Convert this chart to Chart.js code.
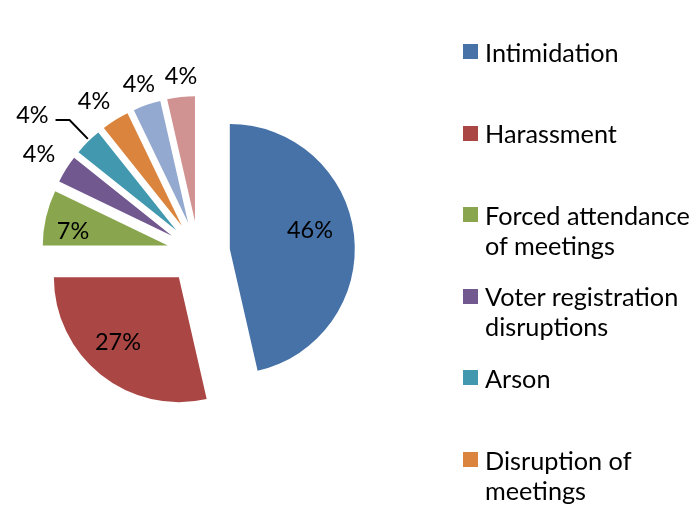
<!DOCTYPE html>
<html>
<head>
<meta charset="utf-8">
<script src="https://cdn.jsdelivr.net/npm/chart.js@4.4.1/dist/chart.umd.min.js"></script>
<style>
  html, body { margin: 0; padding: 0; background: #ffffff; }
  #wrap { position: relative; width: 697px; height: 510px; overflow: hidden; }
  #c { position: absolute; left: 0; top: 0; }
  .li { position: absolute; left: 463px; width: 234px; }
  .sw { position: absolute; left: 0; top: 0; width: 15px; height: 15px; }
  .tx { position: absolute; left: 22px; width: 212px; line-height: 30px; color: #000; white-space: normal; }
</style>
</head>
<body>
<div id="wrap">
  <canvas id="c" width="697" height="510"></canvas>
  <div id="legend"></div>
</div>
<script>
// ---- data ----
const categories = [
  "Intimidation",
  "Harassment",
  "Forced attendance of meetings",
  "Voter registration disruptions",
  "Arson",
  "Disruption of meetings",
  "Other 1",
  "Other 2"
];
const values = [13, 8, 2, 1, 1, 1, 1, 1];
const pctLabels = ["46%", "27%", "7%", "4%", "4%", "4%", "4%", "4%"];
const legendShown = 6;

// ---- style / layout config ----
const colors = ["#4672A8", "#AA4644", "#89A54E", "#71588F", "#4198AF", "#DB843D", "#93A9CF", "#D19392"];
const FONT = 'Lato, "Noto Sans", sans-serif';
const RADIUS = 125;
const EXPLODE = 0.252;
const labelRadius = [0.658, 0.71, 0.767, 1.248, 1.478, 1.222, 1.178, 1.171];
const labelNudgeDeg = [-5.1, 3.5, -2.9, -0.4, -5.2, -2.4, -0.2, 0.8];

function fitSize(text, target) {
  const m = document.createElement('canvas').getContext('2d');
  m.font = '100px ' + FONT;
  return 100 * target / m.measureText(text).width;
}
const legendSize = fitSize("Forced attendance", 205);
const labelSize = fitSize("46%", 46);

// ---- legend (HTML) ----
const legendEl = document.getElementById('legend');
for (let i = 0; i < legendShown; i++) {
  const li = document.createElement('div');
  li.className = 'li';
  li.style.top = (44 + i * 81.6) + 'px';
  const sw = document.createElement('div');
  sw.className = 'sw';
  sw.style.background = colors[i];
  const tx = document.createElement('div');
  tx.className = 'tx';
  tx.style.top = '-7.5px';
  tx.style.fontFamily = FONT;
  tx.style.fontSize = legendSize + 'px';
  tx.textContent = categories[i];
  li.appendChild(sw);
  li.appendChild(tx);
  legendEl.appendChild(li);
}

// ---- plugins ----
function centerOf(chart) {
  const a = chart.chartArea;
  return { cx: (a.left + a.right) / 2, cy: (a.top + a.bottom) / 2 };
}
const explodePlugin = {
  id: 'explode',
  beforeDatasetsDraw(chart) {
    const { cx, cy } = centerOf(chart);
    chart.getDatasetMeta(0).data.forEach(arc => {
      const d = EXPLODE * arc.outerRadius;
      const mid = (arc.startAngle + arc.endAngle) / 2;
      arc.x = cx + d * Math.cos(mid);
      arc.y = cy + d * Math.sin(mid);
    });
  }
};
const labelPlugin = {
  id: 'pctLabels',
  afterDatasetsDraw(chart) {
    const ctx = chart.ctx;
    const { cx, cy } = centerOf(chart);
    ctx.save();
    ctx.font = labelSize + 'px ' + FONT;
    ctx.fillStyle = '#000';
    ctx.textAlign = 'center';
    ctx.textBaseline = 'alphabetic';
    const cap = 0.72 * labelSize;
    chart.getDatasetMeta(0).data.forEach((arc, i) => {
      const r = arc.outerRadius;
      const d = EXPLODE * r;
      const mid = (arc.startAngle + arc.endAngle) / 2;
      const ang = mid + labelNudgeDeg[i] * Math.PI / 180;
      const D = d + labelRadius[i] * r;
      const x = cx + D * Math.cos(ang);
      const y = cy + D * Math.sin(ang);
      ctx.fillText(pctLabels[i], x, y + cap / 2);
      if (labelRadius[i] > 1.35) {
        const w = ctx.measureText(pctLabels[i]).width;
        const ex = cx + (d + r) * Math.cos(mid);
        const ey = cy + (d + r) * Math.sin(mid);
        ctx.beginPath();
        ctx.strokeStyle = '#000';
        ctx.lineWidth = 2;
        ctx.moveTo(x + w / 2 + 7, y + 6);
        ctx.lineTo(x + w / 2 + 21, y + 6);
        ctx.lineTo(ex, ey - 3);
        ctx.stroke();
      }
    });
    ctx.restore();
  }
};

new Chart(document.getElementById('c'), {
  type: 'pie',
  data: {
    labels: categories,
    datasets: [{ data: values, backgroundColor: colors, borderWidth: 0 }]
  },
  options: {
    responsive: false,
    animation: false,
    radius: RADIUS,
    layout: { padding: { left: 0, top: 0, right: 300, bottom: 5 } },
    plugins: { legend: { display: false }, tooltip: { enabled: false } }
  },
  plugins: [explodePlugin, labelPlugin]
});
</script>
</body>
</html>
